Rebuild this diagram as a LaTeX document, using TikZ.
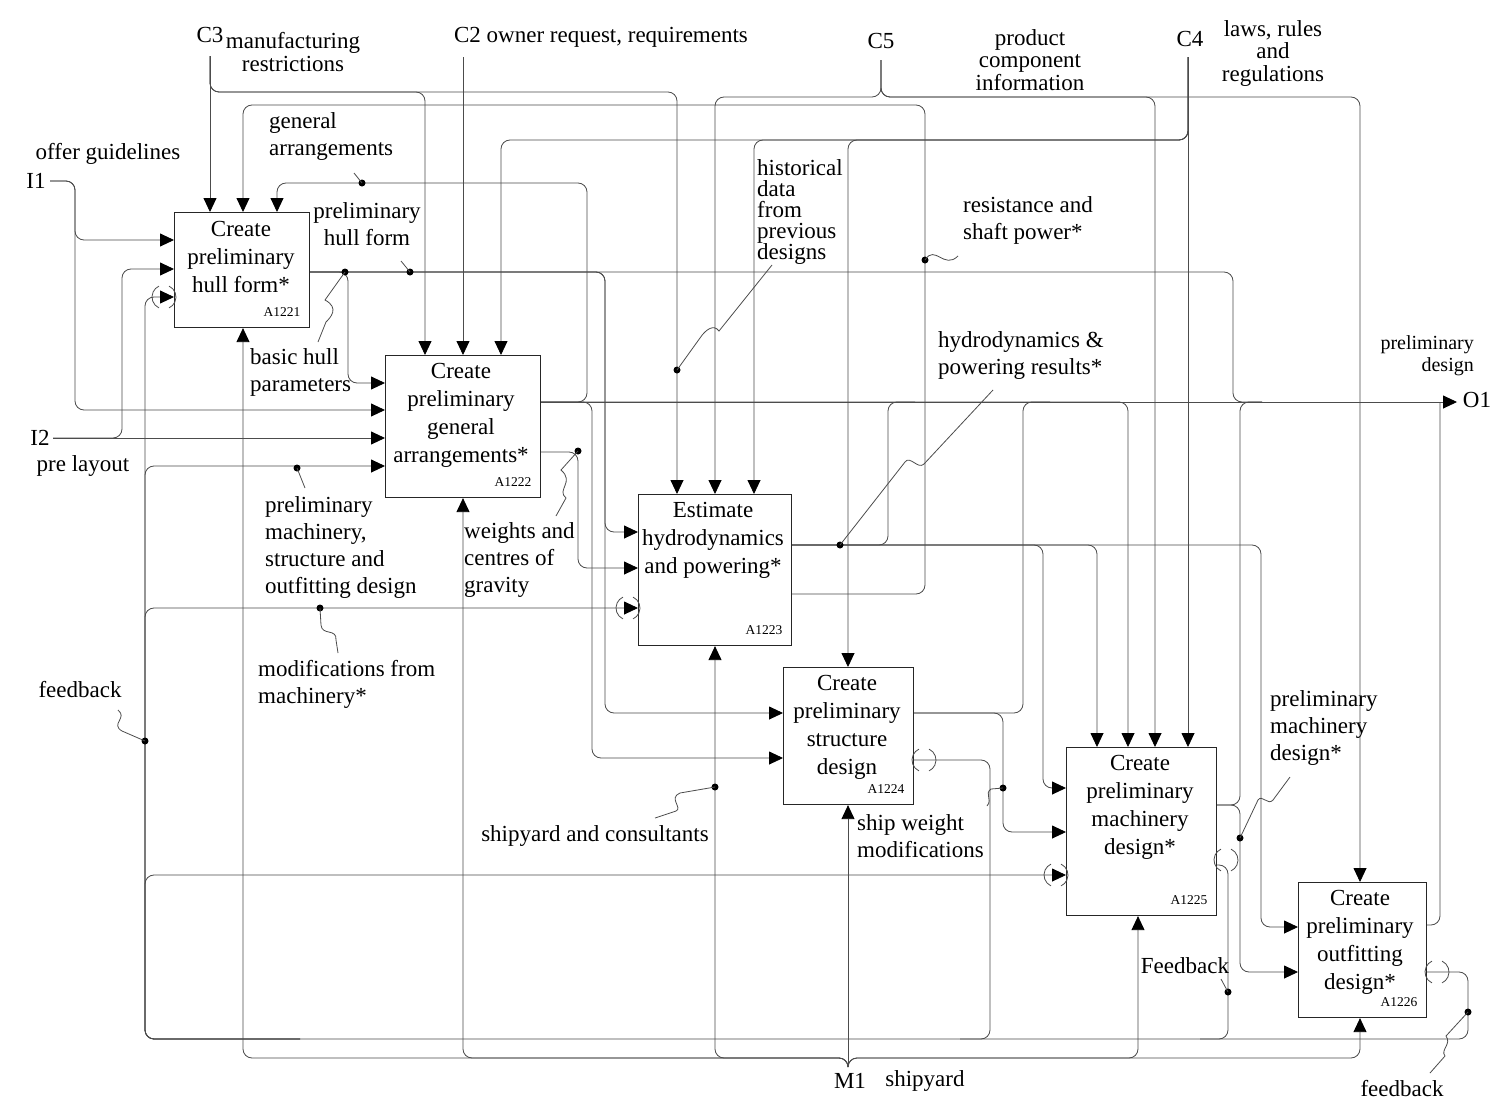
\documentclass[tikz,border=0pt]{standalone}
\usepackage{fontspec}
\setmainfont{Liberation Serif}
\usetikzlibrary{arrows.meta,calc}
\newcommand{\myfs}[1]{\fontsize{23}{#1}\selectfont}
\begin{document}
\begin{tikzpicture}[x=1pt,y=-1pt,
  conn/.style={draw=black!70, line width=0.85pt, rounded corners=9pt},
  conna/.style={conn, -{Triangle[length=14pt,width=13pt,color=black]}},
  procbox/.style={draw=black!85, line width=1.1pt, anchor=north west, inner sep=0pt},
  boxtext/.style={font=\myfs{28}, align=center, inner sep=0pt},
  boxid/.style={font=\fontsize{13.5}{14}\selectfont, inner sep=0pt},
  lab/.style={font=\myfs{27}, inner sep=0pt},
  labw/.style={lab, align=left, anchor=west},
  labt/.style={font=\myfs{22.5}, inner sep=0pt, align=center},
  jdot/.style={circle, fill=black, inner sep=0pt, minimum size=7pt},
  leader/.style={draw=black!70, line width=0.8pt},
  tunnel/.style={draw=black!70, line width=0.8pt},
]
\fill[white] (0,0) rectangle (1500,1114);
\useasboundingbox (0,0) rectangle (1500,1114);

% ---------- boxes ----------
\node[procbox, minimum width=135pt, minimum height=115pt] (b1) at (174,212) {};
\node[procbox, minimum width=155pt, minimum height=142pt] (b2) at (385,355) {};
\node[procbox, minimum width=153pt, minimum height=151pt] (b3) at (638,494) {};
\node[procbox, minimum width=130pt, minimum height=137pt] (b4) at (783,667) {};
\node[procbox, minimum width=150pt, minimum height=168pt] (b5) at (1066,747) {};
\node[procbox, minimum width=128pt, minimum height=135pt] (b6) at (1298,882) {};

\node[boxtext] (t1) at (241,257) {Create\\preliminary\\hull form*};
\node[boxtext] (t2) at (461,415) {Create\\preliminary\\general\\arrangements*};
\node[boxtext] (t3) at (713,540) {Estimate\\hydrodynamics\\and powering*};
\node[boxtext] (t4) at (847,727) {Create\\preliminary\\structure\\design};
\node[boxtext] (t5) at (1140,807) {Create\\preliminary\\machinery\\design*};
\node[boxtext] (t6) at (1360,942) {Create\\preliminary\\outfitting\\design*};

\node[boxid] (id1) at ($(b1.south east)+(-28,-16)$) {A1221};
\node[boxid] (id2) at ($(b2.south east)+(-28,-16)$) {A1222};
\node[boxid] (id3) at ($(b3.south east)+(-28,-16)$) {A1223};
\node[boxid] (id4) at ($(b4.south east)+(-28,-16)$) {A1224};
\node[boxid] (id5) at ($(b5.south east)+(-28,-16)$) {A1225};
\node[boxid] (id6) at ($(b6.south east)+(-28,-16)$) {A1226};

% ---------- ports ----------
\coordinate (b1t1) at ($(b1.north west)+(36,0)$);
\coordinate (b1t2) at ($(b1.north west)+(69,0)$);
\coordinate (b1t3) at ($(b1.north west)+(103,0)$);
\coordinate (b1l1) at ($(b1.north west)+(0,28)$);
\coordinate (b1l2) at ($(b1.north west)+(0,57)$);
\coordinate (b1l3) at ($(b1.north west)+(0,85)$);
\coordinate (b1r1) at ($(b1.north east)+(0,60)$);
\coordinate (b1b1) at ($(b1.south west)+(69,0)$);

\coordinate (b2t1) at ($(b2.north west)+(40,0)$);
\coordinate (b2t2) at ($(b2.north west)+(78,0)$);
\coordinate (b2t3) at ($(b2.north west)+(116,0)$);
\coordinate (b2l1) at ($(b2.north west)+(0,28)$);
\coordinate (b2l2) at ($(b2.north west)+(0,55)$);
\coordinate (b2l3) at ($(b2.north west)+(0,83)$);
\coordinate (b2l4) at ($(b2.north west)+(0,111)$);
\coordinate (b2r1) at ($(b2.north east)+(0,47)$);
\coordinate (b2r2) at ($(b2.north east)+(0,97)$);
\coordinate (b2b1) at ($(b2.south west)+(78,0)$);

\coordinate (b3t1) at ($(b3.north west)+(39,0)$);
\coordinate (b3t2) at ($(b3.north west)+(77,0)$);
\coordinate (b3t3) at ($(b3.north west)+(116,0)$);
\coordinate (b3l1) at ($(b3.north west)+(0,38)$);
\coordinate (b3l2) at ($(b3.north west)+(0,74)$);
\coordinate (b3l3) at ($(b3.north west)+(0,114)$);
\coordinate (b3r1) at ($(b3.north east)+(0,51)$);
\coordinate (b3r2) at ($(b3.north east)+(0,100)$);
\coordinate (b3b1) at ($(b3.south west)+(77,0)$);

\coordinate (b4t1) at ($(b4.north west)+(65,0)$);
\coordinate (b4l1) at ($(b4.north west)+(0,46)$);
\coordinate (b4l2) at ($(b4.north west)+(0,91)$);
\coordinate (b4r1) at ($(b4.north east)+(0,46)$);
\coordinate (b4r2) at ($(b4.north east)+(0,93)$);
\coordinate (b4b1) at ($(b4.south west)+(65,0)$);

\coordinate (b5t1) at ($(b5.north west)+(31,0)$);
\coordinate (b5t2) at ($(b5.north west)+(62,0)$);
\coordinate (b5t3) at ($(b5.north west)+(89,0)$);
\coordinate (b5t4) at ($(b5.north west)+(122,0)$);
\coordinate (b5l1) at ($(b5.north west)+(0,41)$);
\coordinate (b5l2) at ($(b5.north west)+(0,85)$);
\coordinate (b5l3) at ($(b5.north west)+(0,128)$);
\coordinate (b5r1) at ($(b5.north east)+(0,58)$);
\coordinate (b5r2) at ($(b5.north east)+(0,118)$);
\coordinate (b5b1) at ($(b5.south west)+(72,0)$);

\coordinate (b6t1) at ($(b6.north west)+(62,0)$);
\coordinate (b6l1) at ($(b6.north west)+(0,45)$);
\coordinate (b6l2) at ($(b6.north west)+(0,90)$);
\coordinate (b6r1) at ($(b6.north east)+(0,43)$);
\coordinate (b6r2) at ($(b6.north east)+(0,90)$);
\coordinate (b6b1) at ($(b6.south west)+(62,0)$);

\coordinate (c3s) at (210,56);
\coordinate (c2s) at (463,57);
\coordinate (c5s) at (881,60);
\coordinate (c4s) at (1188,57);
\coordinate (i1s) at (50,181);
\coordinate (i2s) at (53,438);
\coordinate (m1s) at (848,1067);
\coordinate (o1) at (1457,402);

% ---------- controls ----------
\draw[conna] (c3s) -- (b1t1);
\draw[conna] (c3s) -- (210,92) -- (425,92) -- (b2t1);
\draw[conna] (c3s) -- (210,92) -- (677,92) -- (b3t1);
\draw[conna] (c2s) -- (b2t2);
\draw[conna] (c4s) -- (b5t4);
\draw[conna] (c4s) -- (1188,140) -- (501,140) -- (b2t3);
\draw[conna] (c4s) -- (1188,140) -- (754,140) -- (b3t3);
\draw[conna] (c4s) -- (1188,140) -- (848,140) -- (b4t1);
\draw[conna] (c5s) -- (881,97) -- (715,97) -- (b3t2);
\draw[conna] (c5s) -- (881,97) -- (1155,97) -- (b5t3);
\draw[conna] (c5s) -- (881,97) -- (1360,97) -- (b6t1);

% ---------- inputs ----------
\draw[conna] (i1s) -- (75,181) -- (75,240) -- (b1l1);
\draw[conna] (i1s) -- (75,181) -- (75,410) -- (b2l2);
\draw[conna] (i2s) -- (b2l3);
\draw[conna] (i2s) -- (122,438) -- (122,269) -- (b1l2);

% ---------- A1221 output ----------
\draw[conn] (b1r1) -- (1233,272) -- (1233,402) -- (1262,402);
\draw[conna] (b1r1) -- (348,272) -- (348,383) -- (b2l1);
\draw[conna] (b1r1) -- (605,272) -- (605,532) -- (b3l1);
\draw[conna] (b1r1) -- (605,272) -- (605,713) -- (b4l1);

% ---------- A1222 outputs ----------
\draw[conna] (b2r1) -- (o1);
\draw[conna] (b2r1) -- (587,402) -- (587,183) -- (277,183) -- (b1t3);
\draw[conna] (b2r1) -- (592,402) -- (592,758) -- (b4l2);
\draw[conna] (b2r1) -- (1128,402) -- (b5t2);
\draw[conna] (b2r2) -- (578,452) -- (578,568) -- (b3l2);

% ---------- A1223 outputs ----------
\draw[conn] (b3r1) -- (888,545) -- (888,402) -- (915,402);
\draw[conna] (b3r1) -- (1043,545) -- (1043,788) -- (b5l1);
\draw[conna] (b3r1) -- (1097,545) -- (b5t1);
\draw[conna] (b3r1) -- (1261,545) -- (1261,927) -- (b6l1);
\draw[conna] (b3r2) -- (925,594) -- (925,105) -- (243,105) -- (b1t2);

% ---------- A1224 outputs ----------
\draw[conn] (b4r1) -- (1023,713) -- (1023,402) -- (1050,402);
\draw[conna] (b4r1) -- (1003,713) -- (1003,832) -- (b5l2);
\draw[conn] (b4r2) -- (990,760) -- (990,1039) -- (960,1039);

% ---------- A1225 outputs ----------
\draw[conn] (b5r1) -- (1240,805) -- (1240,402) -- (1262,402);
\draw[conna] (b5r1) -- (1240,805) -- (1240,972) -- (b6l2);
\draw[conn] (b5r2) -- (1228,865) -- (1228,1039) -- (1200,1039);

% ---------- A1226 outputs ----------
\draw[conn] (b6r1) -- (1440,925) -- (1440,403);
\draw[conna] (b6r2) -- (1468,972) -- (1468,1039) -- (145,1039) -- (145,297) -- (b1l3);
\draw[conna] (300,1039) -- (145,1039) -- (145,466) -- (b2l4);
\draw[conna] (300,1039) -- (145,1039) -- (145,608) -- (b3l3);
\draw[conna] (300,1039) -- (145,1039) -- (145,875) -- (b5l3);

% ---------- mechanism ----------
\draw[conna] (m1s) -- (b4b1);
\draw[conna] (m1s) -- (848,1058) -- (243,1058) -- (b1b1);
\draw[conna] (m1s) -- (848,1058) -- (463,1058) -- (b2b1);
\draw[conna] (m1s) -- (848,1058) -- (715,1058) -- (b3b1);
\draw[conna] (m1s) -- (848,1058) -- (1138,1058) -- (b5b1);
\draw[conna] (m1s) -- (848,1058) -- (1360,1058) -- (b6b1);

% ---------- tunnels ----------
\foreach \cx/\cy in {164/297, 628/608, 1056/875, 924/760, 1226/860, 1437/972}{
  \draw[tunnel] ($(\cx,\cy)+(115:12)$) arc[start angle=115, end angle=245, radius=12];
  \draw[tunnel] ($(\cx,\cy)+(-65:12)$) arc[start angle=-65, end angle=65, radius=12];
}

% ---------- dots ----------
\node[jdot] (dga) at (362,183) {};
\node[jdot] (dbhp) at (345,272) {};
\node[jdot] (dphf) at (410,272) {};
\node[jdot] (dhist) at (677,370) {};
\node[jdot] (dres) at (925,260) {};
\node[jdot] (dwcg) at (578,451) {};
\node[jdot] (dpms) at (297,468) {};
\node[jdot] (dmod) at (320,608) {};
\node[jdot] (dhyd) at (840,545) {};
\node[jdot] (dfb1) at (145,741) {};
\node[jdot] (dsyc) at (715,787) {};
\node[jdot] (dswm) at (1003,788) {};
\node[jdot] (dpmd) at (1240,838) {};
\node[jdot] (dfb2) at (1228,992) {};
\node[jdot] (dfb3) at (1468,1012) {};

% ---------- leaders ----------
\draw[leader] (dga.center) -- (354,173);
\draw[leader] (dphf.center) -- (401,261);
\draw[leader] (dbhp.center) -- (325,300) .. controls (340,308) and (330,318) .. (326,322) -- (318,342);
\draw[leader] (dhist.center) -- (700,338) .. controls (706,329) and (714,324) .. (719,331) -- (772,265);
\draw[leader] (dres.center) .. controls (935,244) and (944,270) .. (958,256);
\draw[leader] (dhyd.center) -- (905,462) .. controls (910,455) and (918,470) .. (924,464) -- (993,390);
\draw[leader] (dwcg.center) -- (561,470) .. controls (575,482) and (556,490) .. (566,498) -- (556,516);
\draw[leader] (dpms.center) -- (305,488);
\draw[leader] (dmod.center) -- (321,625) .. controls (322,636) and (337,628) .. (336,640) -- (338,653);
\draw[leader] (dfb1.center) -- (122,731) .. controls (110,724) and (128,718) .. (118,710);
\draw[leader] (dsyc.center) -- (680,793) .. controls (668,798) and (683,808) .. (676,811) -- (655,818);
\draw[leader] (dswm.center) -- (991,789) .. controls (984,794) and (993,799) .. (987,806);
\draw[leader] (dpmd.center) -- (1258,800) .. controls (1262,794) and (1268,806) .. (1273,800) -- (1290,777);
\draw[leader] (dfb2.center) -- (1221,979);
\draw[leader] (dfb3.center) -- (1446,1036) .. controls (1452,1044) and (1440,1050) .. (1445,1056) -- (1430,1073);

% ---------- labels ----------
\node[lab] (c3) at (210,35) {C3};
\node[labt] (mr) at (293,52) {manufacturing\\restrictions};
\node[lab] (c2) at (601,37) {C2 owner request, requirements};
\node[lab] (c5) at (881,41) {C5};
\node[labt] (pci) at (1030,60) {product\\component\\information};
\node[lab] (c4) at (1190,39) {C4};
\node[labt] (lrr) at (1273,53) {laws, rules\\and\\regulations};
\node[lab] (og) at (108,154) {offer guidelines};
\node[lab] (i1) at (36,181) {I1};
\node[labw] (ga) at (269,136) {general\\arrangements};
\node[lab, align=center] (phf) at (367,224) {preliminary\\hull form};
\node[lab, align=left, anchor=west, font=\myfs{21}] (hd) at (757,212) {historical\\data\\from\\previous\\designs};
\node[labw] (rsp) at (963,220) {resistance and\\shaft power*};
\node[labw] (bhp) at (250,372) {basic hull\\parameters};
\node[labw] (hpr) at (938,355) {hydrodynamics \&\\powering results*};
\node[inner sep=0pt, align=right, anchor=east, font=\fontsize{20}{22}\selectfont] (pd) at (1474,356) {preliminary\\design};
\node[lab] (o1l) at (1477,400) {O1};
\node[lab] (i2) at (40,438) {I2};
\node[lab] (pl) at (83,466) {pre layout};
\node[labw] (pms) at (265,547) {preliminary\\machinery,\\structure and\\outfitting design};
\node[labw] (wcg) at (464,560) {weights and\\centres of\\gravity};
\node[labw] (mfm) at (258,684) {modifications from\\machinery*};
\node[lab] (fb1) at (80,690) {feedback};
\node[lab] (syc) at (595,836) {shipyard and consultants};
\node[labw] (swm) at (857,836) {ship weight\\modifications};
\node[labw] (pmd) at (1270,728) {preliminary\\machinery\\design*};
\node[lab] (fb2) at (1185,966) {Feedback};
\node[lab] (m1) at (850,1081) {M1};
\node[lab] (sy) at (925,1081) {shipyard};
\node[lab] (fb3) at (1402,1089) {feedback};
\end{tikzpicture}
\end{document}
